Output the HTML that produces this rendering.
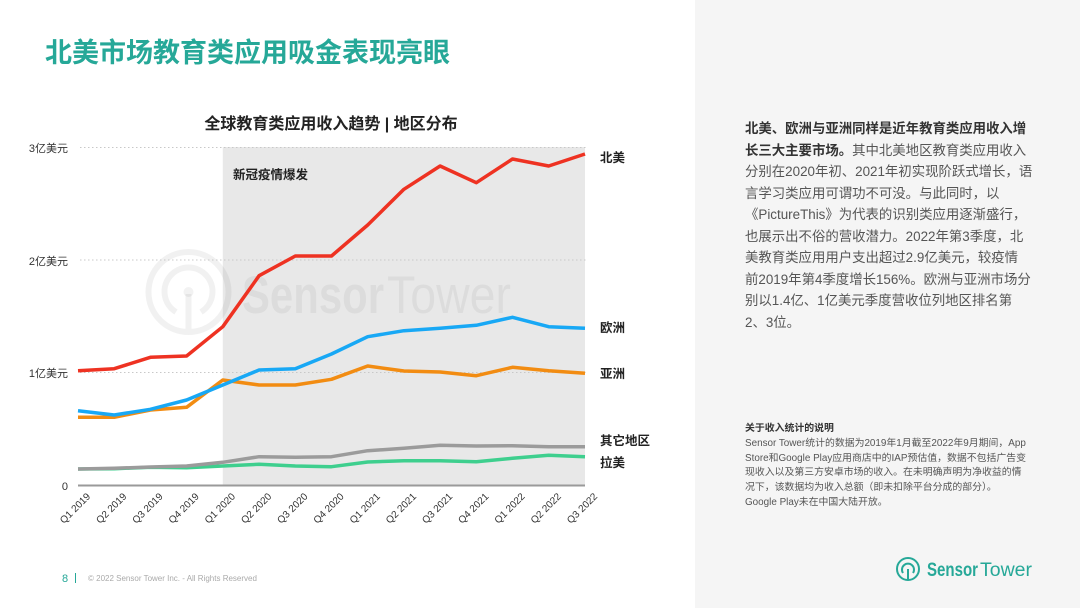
<!DOCTYPE html>
<html><head><meta charset="utf-8">
<style>
html,body{margin:0;padding:0;background:#fff;}
body{width:1080px;height:608px;position:relative;overflow:hidden;font-family:"Liberation Sans","Noto Sans CJK SC",sans-serif;}
.panel{position:absolute;left:695px;top:0;width:385px;height:608px;background:#f5f5f5;}
.main{position:absolute;left:745px;top:118px;font-size:13.4px;line-height:21.5px;color:#555;white-space:nowrap;font-family:"Liberation Sans","Noto Sans CJK SC",sans-serif;}
.main b{color:#333;}
.note{position:absolute;left:745px;top:422px;font-size:9.9px;line-height:14.8px;color:#555;white-space:nowrap;font-family:"Liberation Sans","Noto Sans CJK SC",sans-serif;}
.note b{color:#333;}
svg{position:absolute;left:0;top:0;}
</style></head><body>
<div class="panel"></div>
<svg width="1080" height="608" viewBox="0 0 1080 608" font-family="Liberation Sans, Noto Sans CJK SC, sans-serif">
  <!-- Title -->
  <text x="45" y="62" font-size="27" font-weight="bold" fill="#26a898">北美市场教育类应用吸金表现亮眼</text>
  <!-- Chart title -->
  <text x="331" y="129" font-size="16" font-weight="bold" fill="#222" text-anchor="middle">全球教育类应用收入趋势 | 地区分布</text>
  <!-- shade -->
  <rect x="222.8" y="147" width="362.2" height="338" fill="#e8e8e8"/>
  <!-- watermark -->
  <g opacity="0.05" fill="none" stroke="#000">
    <circle cx="188.5" cy="292" r="40" stroke-width="6"/>
    <path d="M176 312 A24 24 0 1 1 201 312" stroke-width="6"/>
    <line x1="188.5" y1="294" x2="188.5" y2="332" stroke-width="6"/>
  </g>
  <circle cx="188.5" cy="292" r="5" fill="#000" opacity="0.05"/>
  <text x="242" y="313" font-size="53" font-weight="bold" fill="#000" opacity="0.048" textLength="142" lengthAdjust="spacingAndGlyphs">Sensor</text>
  <text x="387" y="313" font-size="53" fill="#000" opacity="0.048" textLength="124" lengthAdjust="spacingAndGlyphs">Tower</text>
  <!-- gridlines -->
  <g stroke="#c8c8c8" stroke-width="1" stroke-dasharray="1.5,2.5">
    <line x1="80" y1="147.5" x2="587" y2="147.5"/>
    <line x1="80" y1="260" x2="587" y2="260"/>
    <line x1="80" y1="372.5" x2="587" y2="372.5"/>
  </g>
  <line x1="78" y1="485.5" x2="585" y2="485.5" stroke="#9a9a9a" stroke-width="2"/>
  <!-- y labels -->
  <g font-size="11" fill="#333" text-anchor="end">
    <text x="68" y="152">3亿美元</text>
    <text x="68" y="265">2亿美元</text>
    <text x="68" y="377">1亿美元</text>
    <text x="68" y="490">0</text>
  </g>
  <text x="233" y="179" font-size="12.5" font-weight="bold" fill="#222">新冠疫情爆发</text>
  <!-- series -->
  <g fill="none" stroke-width="3.5" stroke-linejoin="round" stroke-linecap="butt">
    <polyline stroke="#3ecf8e" points="78,469 114.2,468.7 150.4,467.3 186.6,467.7 222.8,466 259.1,464.3 295.3,466 331.5,466.7 367.7,462 403.9,460.7 440.1,460.7 476.3,461.7 512.5,458.3 548.7,455.3 585,456.7"/>
    <polyline stroke="#9b9b9b" points="78,469 114.2,468.3 150.4,467 186.6,466 222.8,462.3 259.1,456.7 295.3,457.3 331.5,456.7 367.7,450.7 403.9,448.3 440.1,445.3 476.3,446 512.5,445.7 548.7,446.7 585,446.7"/>
    <polyline stroke="#f28c12" points="78,417.3 114.2,417.3 150.4,410 186.6,407.3 222.8,380 259.1,385 295.3,385 331.5,379.3 367.7,366 403.9,371 440.1,372 476.3,375.7 512.5,367.3 548.7,370.7 585,373.3"/>
    <polyline stroke="#18a8f5" points="78,410.7 114.2,415 150.4,409.3 186.6,400 222.8,385 259.1,370 295.3,368.7 331.5,354 367.7,336.7 403.9,330.7 440.1,328.3 476.3,325.3 512.5,317.3 548.7,326.7 585,328.3"/>
    <polyline stroke="#ee3222" points="78,370.7 114.2,368.7 150.4,357.3 186.6,356 222.8,326.7 259.1,275.7 295.3,256 331.5,256 367.7,225 403.9,189.3 440.1,166 476.3,182.7 512.5,159 548.7,166 585,154"/>
  </g>
  <!-- series labels -->
  <g font-size="12.5" font-weight="bold" fill="#222">
    <text x="600" y="162">北美</text>
    <text x="600" y="332">欧洲</text>
    <text x="600" y="378">亚洲</text>
    <text x="600" y="445">其它地区</text>
    <text x="600" y="467">拉美</text>
  </g>
  <!-- x labels -->
  <g font-size="10" fill="#333" text-anchor="end">
    <text transform="translate(91,497) rotate(-45)">Q1 2019</text>
    <text transform="translate(127.2,497) rotate(-45)">Q2 2019</text>
    <text transform="translate(163.4,497) rotate(-45)">Q3 2019</text>
    <text transform="translate(199.6,497) rotate(-45)">Q4 2019</text>
    <text transform="translate(235.8,497) rotate(-45)">Q1 2020</text>
    <text transform="translate(272.1,497) rotate(-45)">Q2 2020</text>
    <text transform="translate(308.3,497) rotate(-45)">Q3 2020</text>
    <text transform="translate(344.5,497) rotate(-45)">Q4 2020</text>
    <text transform="translate(380.7,497) rotate(-45)">Q1 2021</text>
    <text transform="translate(416.9,497) rotate(-45)">Q2 2021</text>
    <text transform="translate(453.1,497) rotate(-45)">Q3 2021</text>
    <text transform="translate(489.3,497) rotate(-45)">Q4 2021</text>
    <text transform="translate(525.5,497) rotate(-45)">Q1 2022</text>
    <text transform="translate(561.7,497) rotate(-45)">Q2 2022</text>
    <text transform="translate(598,497) rotate(-45)">Q3 2022</text>
  </g>
  <!-- footer -->
  <text x="62" y="582" font-size="11" fill="#26a898">8</text>
  <line x1="75.5" y1="573" x2="75.5" y2="583" stroke="#26a898" stroke-width="1"/>
  <text x="88" y="581" font-size="8" fill="#aaa">© 2022 Sensor Tower Inc. - All Rights Reserved</text>
  <!-- logo -->
  <g fill="none" stroke="#26a898" stroke-width="2">
    <circle cx="908" cy="569" r="11"/>
    <path d="M903 573 A6 6 0 1 1 913 573"/>
    <line x1="908" y1="569" x2="908" y2="580"/>
  </g>
  <text x="927" y="576" font-size="19" font-weight="bold" fill="#26a898" textLength="51" lengthAdjust="spacingAndGlyphs">Sensor</text>
  <text x="980" y="576" font-size="19" fill="#26a898" textLength="52" lengthAdjust="spacingAndGlyphs">Tower</text>
</svg>
<div class="main"><b>北美、欧洲与亚洲同样是近年教育类应用收入增</b><br><b>长三大主要市场。</b>其中北美地区教育类应用收入<br>分别在2020年初、2021年初实现阶跃式增长，语<br>言学习类应用可谓功不可没。与此同时，以<br>《PictureThis》为代表的识别类应用逐渐盛行，<br>也展示出不俗的营收潜力。2022年第3季度，北<br>美教育类应用用户支出超过2.9亿美元，较疫情<br>前2019年第4季度增长156%。欧洲与亚洲市场分<br>别以1.4亿、1亿美元季度营收位列地区排名第<br>2、3位。</div>
<div class="note"><b>关于收入统计的说明</b><br>Sensor Tower统计的数据为2019年1月截至2022年9月期间，App<br>Store和Google Play应用商店中的IAP预估值，数据不包括广告变<br>现收入以及第三方安卓市场的收入。在未明确声明为净收益的情<br>况下，该数据均为收入总额（即未扣除平台分成的部分）。<br>Google Play未在中国大陆开放。</div>
</body></html>
